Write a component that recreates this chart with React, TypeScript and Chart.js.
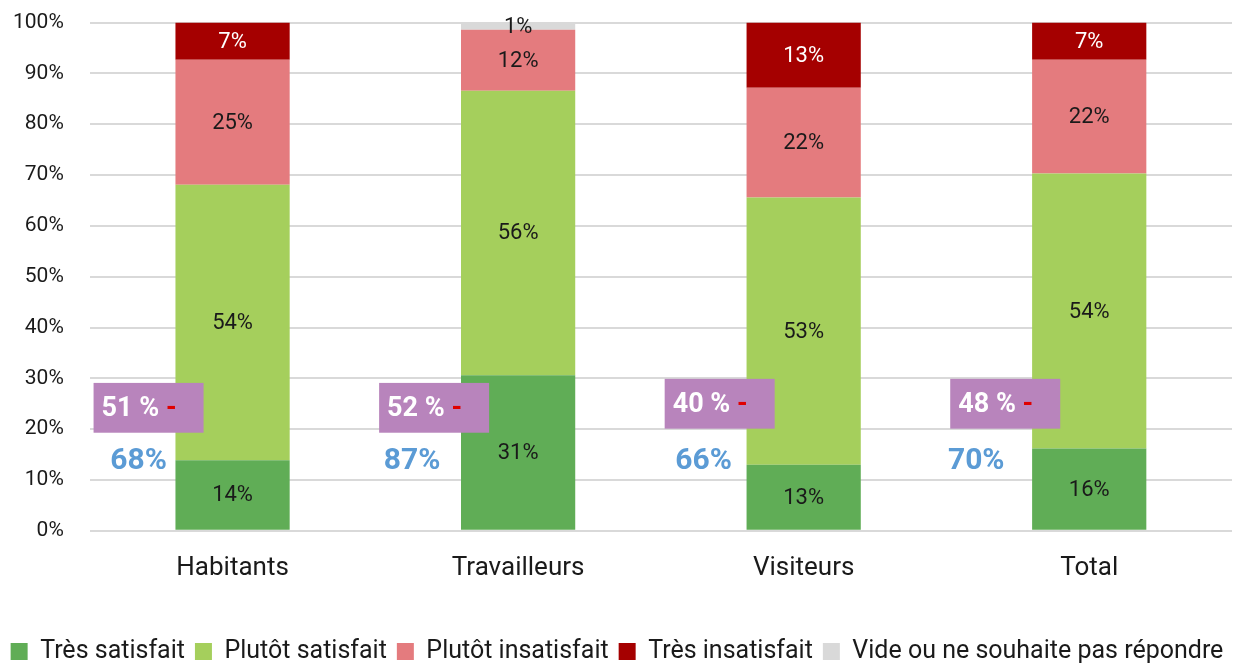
import React, { useEffect, useRef } from "react";
import { Chart, registerables } from "chart.js";
Chart.register(...registerables);

const categories = ["Habitants", "Travailleurs", "Visiteurs", "Total"];
const tresSatisfait = [13.9, 30.6, 13.0, 16.2];
const plutotSatisfait = [54.2, 56.0, 52.6, 54.1];
const plutotInsatisfait = [24.6, 12.0, 21.6, 22.4];
const tresInsatisfait = [7.3, 0, 12.8, 7.3];
const videNeSouhaitePas = [0, 1.4, 0, 0];
const seriesNames = [
  "Très satisfait",
  "Plutôt satisfait",
  "Plutôt insatisfait",
  "Très insatisfait",
  "Vide ou ne souhaite pas répondre",
];
const satisfactionTotals = ["68%", "87%", "66%", "70%"];
const scoreLabels = ["51 %", "52 %", "40 %", "48 %"];
const yTicks = [0, 10, 20, 30, 40, 50, 60, 70, 80, 90, 100];

// annotation placement (style only)
const blueOffsets = [-94, -106, -100, -113];
const boxTops = [29.1, 29.1, 29.9, 29.9];

const FONT = "Roboto, 'DejaVu Sans', sans-serif";
const colors = ["#60AD56", "#A5CF5C", "#E47B7E", "#A50000", "#D9D9D9"];

const overlayPlugin = {
  id: "overlay",
  afterDatasetsDraw(chart: any) {
    const ctx = chart.ctx;
    const xs = chart.scales.x;
    const ys = chart.scales.y;
    ctx.save();
    chart.data.datasets.forEach((ds: any, di: number) => {
      const meta = chart.getDatasetMeta(di);
      meta.data.forEach((el: any, i: number) => {
        const v = ds.data[i];
        if (!v) return;
        const y = (el.y + el.base) / 2;
        ctx.font = `22px ${FONT}`;
        ctx.fillStyle = di === 3 ? "#FFFFFF" : "#1A1A1A";
        ctx.textAlign = "center";
        ctx.textBaseline = "middle";
        ctx.fillText(Math.round(v) + "%", el.x, y + 1);
      });
    });
    categories.forEach((_, i) => {
      const cx = xs.getPixelForValue(i);
      const top = ys.getPixelForValue(boxTops[i]);
      const bot = ys.getPixelForValue(boxTops[i] - 9.8);
      const left = cx - 139;
      const right = cx - 29;
      ctx.fillStyle = "#B884BC";
      ctx.fillRect(left, top, right - left, bot - top);
      ctx.font = `bold 27px ${FONT}`;
      ctx.textAlign = "left";
      ctx.textBaseline = "middle";
      ctx.fillStyle = "#FFFFFF";
      const midY = (top + bot) / 2 + 1;
      ctx.fillText(scoreLabels[i], left + 8, midY);
      const w = ctx.measureText(scoreLabels[i] + " ").width;
      ctx.fillStyle = "#E00000";
      ctx.fillText("-", left + 8 + w, midY);
      ctx.font = `bold 30px ${FONT}`;
      ctx.textAlign = "center";
      ctx.fillStyle = "#5B9BD5";
      ctx.fillText(satisfactionTotals[i], cx + blueOffsets[i], ys.getPixelForValue(13.6));
    });
    ctx.restore();
  },
};

export default function App() {
  const ref = useRef<HTMLCanvasElement>(null);
  useEffect(() => {
    document.body.style.margin = "0";
    const data = [tresSatisfait, plutotSatisfait, plutotInsatisfait, tresInsatisfait, videNeSouhaitePas];
    const chart = new Chart(ref.current!, {
      type: "bar",
      data: {
        labels: categories,
        datasets: data.map((d, k) => ({
          label: seriesNames[k],
          data: d,
          backgroundColor: colors[k],
          borderWidth: 0,
          categoryPercentage: 1,
          barPercentage: 0.4,
        })),
      },
      options: {
        animation: false,
        responsive: false,
        maintainAspectRatio: false,
        layout: { padding: { left: -8, right: 0, top: 0, bottom: -11 } },
        plugins: {
          legend: {
            position: "bottom",
            labels: {
              boxWidth: 17,
              boxHeight: 17,
              padding: 10,
              color: "#1A1A1A",
              font: { family: FONT, size: 25 },
            },
          },
          tooltip: { enabled: false },
        },
        scales: {
          x: {
            stacked: true,
            grid: { display: false, drawTicks: false },
            border: { display: false },
            ticks: { color: "#1A1A1A", font: { family: FONT, size: 26 }, padding: 22 },
            afterFit: (axis: any) => {
              axis.height += 23;
              axis.paddingRight = Math.max(axis.paddingRight || 0, 10);
            },
          },
          y: {
            stacked: true,
            min: 0,
            max: 100,
            afterBuildTicks: (axis: any) => {
              axis.ticks = yTicks.map((v) => ({ value: v }));
            },
            afterFit: (axis: any) => {
              axis.width += 11;
            },
            grid: { color: "#D9D9D9", lineWidth: 2, drawTicks: true, tickLength: 16, tickColor: "rgba(0,0,0,0)" },
            border: { display: false },
            ticks: {
              color: "#1A1A1A",
              font: { family: FONT, size: 21 },
              padding: 10,
              callback: (v: any) => v + "%",
            },
          },
        },
      },
      plugins: [overlayPlugin],
    });
    return () => chart.destroy();
  }, []);
  return (
    <div style={{ width: 1242, height: 663 }}>
      <canvas ref={ref} width={1242} height={663} style={{ display: "block" }} />
    </div>
  );
}
